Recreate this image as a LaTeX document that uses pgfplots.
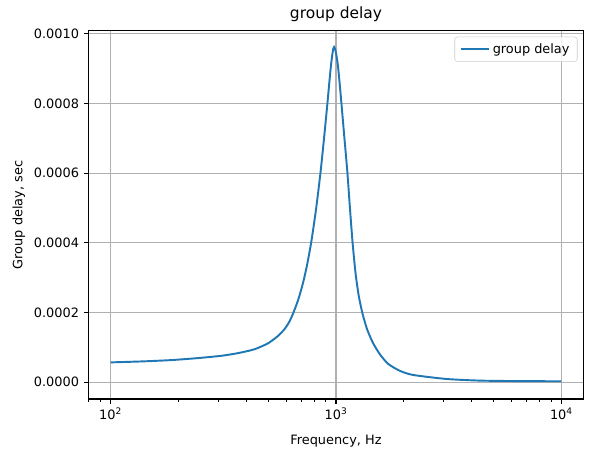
\documentclass[border=0pt]{standalone}
\usepackage{fontspec}
\setmainfont{DejaVu Sans}
\usepackage{pgfplots}
\pgfplotsset{compat=1.18}
\usepackage{pgfplotstable}
\definecolor{mplblue}{HTML}{1F77B4}
\definecolor{mplgrid}{HTML}{B0B0B0}
\pgfplotstableread{
f tau
100 5.71e-5
140 6.0e-5
186 6.37e-5
240 6.9e-5
310 7.6e-5
370 8.4e-5
436 9.5e-5
500 1.12e-4
553 1.33e-4
592 1.53e-4
620 1.73e-4
644 1.96e-4
680 2.37e-4
714 2.85e-4
745 3.38e-4
778 4.05e-4
815 4.95e-4
853 6.0e-4
885 7.0e-4
916 8.0e-4
945 8.95e-4
962 9.38e-4
972 9.56e-4
981 9.62e-4
990 9.57e-4
1002 9.42e-4
1020 9.08e-4
1040 8.52e-4
1057 8.0e-4
1090 7.0e-4
1124 6.0e-4
1153 5.0e-4
1183 4.05e-4
1220 3.15e-4
1260 2.5e-4
1310 1.98e-4
1374 1.52e-4
1459 1.13e-4
1563 8.1e-5
1702 5.3e-5
1919 3.3e-5
2197 2.1e-5
3090 9.5e-6
4345 4.8e-6
6500 3.4e-6
10000 2.9e-6
}\gd
\begin{document}
\begin{tikzpicture}
\useasboundingbox (-68.3pt,-45pt) rectangle (392.6pt,309.6pt);
\begin{axis}[
  at={(0,0)}, anchor=south west,
  scale only axis, width=384.8pt, height=285.6pt,
  xmode=log, log basis x=10,
  xmin=79.43, xmax=12589,
  ymin=-0.000048, ymax=0.001008,
  xtick={100,1000,10000},
  xticklabels={10\textsuperscript{2},10\textsuperscript{3},10\textsuperscript{4}},
  minor xtick={80,90,200,300,400,500,600,700,800,900,2000,3000,4000,5000,6000,7000,8000,9000},
  ytick={0,0.0002,0.0004,0.0006,0.0008,0.001},
  scaled y ticks=false,
  yticklabel style={/pgf/number format/.cd, fixed, fixed zerofill, precision=4, assume math mode=true},
  xtick pos=bottom, ytick pos=left,
  tick align=outside,
  major tick length=3.5pt, minor tick length=2pt,
  every tick/.style={black, line width=0.8pt},
  minor tick style={black, line width=0.6pt},
  axis line style={line width=0.8pt},
  grid=major,
  major grid style={mplgrid, line width=0.8pt},
  title={group delay},
  title style={font=\fontsize{12}{14}\selectfont, yshift=-2pt},
  xlabel={Frequency, Hz},
  ylabel={Group delay, sec},
  xlabel style={yshift=-5.5pt},
  tick label style={font=\fontsize{10}{12}\selectfont},
  label style={font=\fontsize{10}{12}\selectfont},
  legend style={at={(1,1)}, anchor=north east, xshift=-5pt, yshift=-4.5pt,
    draw=black!20, rounded corners=2pt, fill=white, fill opacity=0.8, text opacity=1,
    font=\fontsize{10}{12}\selectfont, inner xsep=4pt, inner ysep=3pt},
  legend cell align=left,
  legend image code/.code={\draw[#1] (0pt,0pt) -- (22pt,0pt);},
]
\addplot[mplblue, line width=1.5pt, no marks, smooth, tension=0.4] table[x=f, y=tau] {\gd};
\addlegendentry{group delay}
\end{axis}
\end{tikzpicture}
\end{document}
